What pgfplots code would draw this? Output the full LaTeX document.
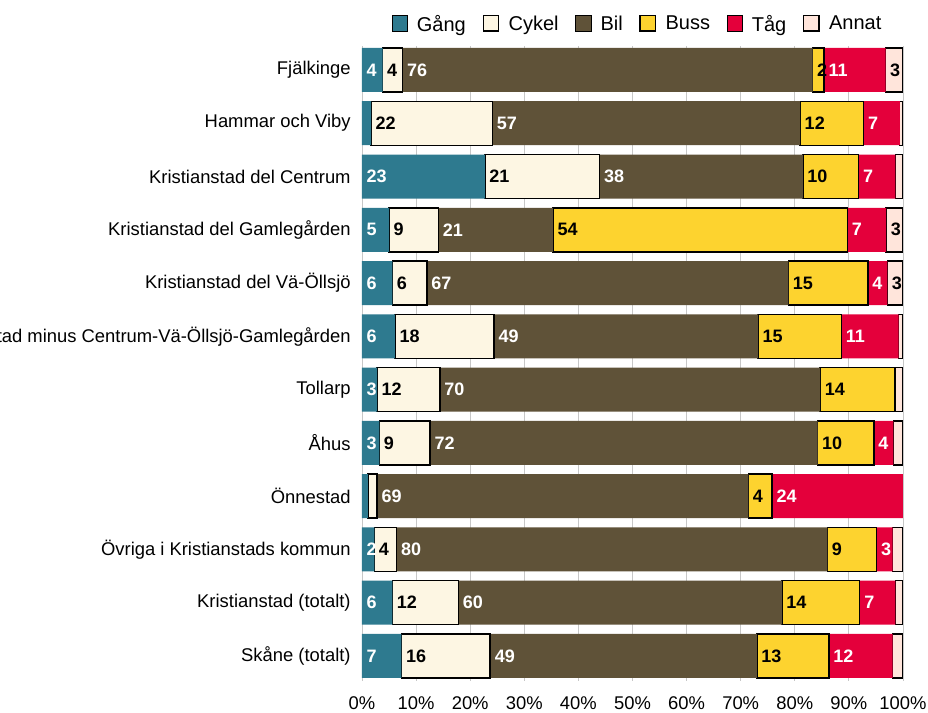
\documentclass[border=0pt]{standalone}
\usepackage{pgfplots}
\pgfplotsset{compat=1.18}
\usepackage{pgfplotstable}
\usepackage{fontspec}
\setmainfont{Liberation Sans}
\definecolor{cGang}{HTML}{2E7A8F}
\definecolor{cCykel}{HTML}{FDF6E3}
\definecolor{cBil}{HTML}{5F5238}
\definecolor{cBuss}{HTML}{FDD32F}
\definecolor{cTag}{HTML}{E4003B}
\definecolor{cAnnat}{HTML}{FFE5DB}

\pgfplotstableread{
idx Gang lGang Cykel lCykel Bil lBil Buss lBuss Tag lTag Annat lAnnat
11 3.8 4 3.7 4 75.8 76 2.1 2 11.4 11 3.2 3
10 1.7 {} 22.4 22 56.9 57 11.7 12 6.7 7 0.6 {}
9 22.7 23 21.2 21 37.6 38 10.3 10 6.8 7 1.4 {}
8 5.0 5 9.1 9 21.2 21 54.4 54 7.2 7 3.1 3
7 5.6 6 6.4 6 66.8 67 14.7 15 3.6 4 2.9 3
6 6.1 6 18.3 18 48.8 49 15.4 15 10.6 11 0.8 {}
5 2.8 3 11.6 12 70.3 70 13.8 14 0 {} 1.5 {}
4 3.2 3 9.4 9 71.6 72 10.4 10 3.6 4 1.8 {}
3 1.1 {} 1.7 {} 68.6 69 4.4 4 24.2 24 0 {}
2 2.3 2 4.1 4 79.6 80 9.1 9 3.0 3 1.9 {}
1 5.6 6 12.2 12 59.8 60 14.4 14 6.6 7 1.4 {}
0 7.3 7 16.4 16 49.3 49 13.3 13 11.8 12 1.9 {}
}\data

\pgfplotsset{
  sq/.style={legend image code/.code={\draw[##1] (0pt,-5.2pt) rectangle (11.5pt,6.3pt);}},
  geom/.style={x=4.0575pt, y=39.95pt, xmin=0, xmax=100, ymin=-0.47, ymax=11.45},
  lab/.style={draw=none, mark=none,
    every node near coord/.append style={text=#1}},
}

\begin{document}
\begin{tikzpicture}
\begin{axis}[
  name=ax,
  geom,
  xbar stacked,
  bar width=33pt,
  axis line style={draw=none},
  xtick={0,10,...,100},
  /pgf/number format/assume math mode=true,
  xticklabel={\pgfmathprintnumber{\tick}\%},
  major tick length=0pt,
  xmajorgrids,
  grid style={black!22, line width=0.6pt},
  ytick={0,...,11},
  yticklabels={Skåne (totalt), Kristianstad (totalt), Övriga i Kristianstads kommun, Önnestad, Åhus, Tollarp, Kristianstad minus Centrum-Vä-Öllsjö-Gamlegården, Kristianstad del Vä-Öllsjö, Kristianstad del Gamlegården, Kristianstad del Centrum, Hammar och Viby, Fjälkinge},
  tick label style={font=\fontsize{13.8}{16}\selectfont},
  yticklabel style={xshift=-5pt},
  xticklabel style={yshift=-8pt},
  legend columns=6,
  legend style={draw=none, fill=none, at={(0.51,1)}, anchor=center, yshift=16.5pt,
    font=\fontsize{15}{18}\selectfont, inner sep=0pt,
    /tikz/every odd column/.append style={column sep=5pt},
    /tikz/every even column/.append style={column sep=10.5pt}},
]
\addplot[sq, fill=cGang, draw=none] table[x=Gang, y=idx]{\data};
\addlegendentry{Gång}
\addplot[sq, fill=cCykel, draw=black, line width=1.1pt] table[x=Cykel, y=idx]{\data};
\addlegendentry{Cykel}
\addplot[sq, fill=cBil, draw=none] table[x=Bil, y=idx]{\data};
\addlegendentry{Bil}
\addplot[sq, fill=cBuss, draw=black, line width=1.1pt] table[x=Buss, y=idx]{\data};
\addlegendentry{Buss}
\addplot[sq, fill=cTag, draw=none] table[x=Tag, y=idx]{\data};
\addlegendentry{Tåg}
\addplot[sq, fill=cAnnat, draw=black, line width=1.1pt] table[x=Annat, y=idx]{\data};
\addlegendentry{Annat}
\end{axis}
\begin{axis}[
  geom,
  hide axis,
  clip=false,
  point meta=explicit symbolic,
  nodes near coords={\pgfplotspointmeta},
  every node near coord/.append style={anchor=west, inner sep=0pt, xshift=3.2pt,
    font=\bfseries\fontsize{13.5}{16}\selectfont},
]
\addplot[lab=white] table[x expr=0, y=idx, meta=lGang]{\data};
\addplot[lab=black] table[x expr=\thisrow{Gang}, y=idx, meta=lCykel]{\data};
\addplot[lab=white] table[x expr=\thisrow{Gang}+\thisrow{Cykel}, y=idx, meta=lBil]{\data};
\addplot[lab=black] table[x expr=\thisrow{Gang}+\thisrow{Cykel}+\thisrow{Bil}, y=idx, meta=lBuss]{\data};
\addplot[lab=white] table[x expr=\thisrow{Gang}+\thisrow{Cykel}+\thisrow{Bil}+\thisrow{Buss}, y=idx, meta=lTag]{\data};
\addplot[lab=black] table[x expr=\thisrow{Gang}+\thisrow{Cykel}+\thisrow{Bil}+\thisrow{Buss}+\thisrow{Tag}, y=idx, meta=lAnnat]{\data};
\end{axis}
\pgfresetboundingbox
\path[use as bounding box] ([xshift=-271.5pt, yshift=-24pt]ax.south west) rectangle ([xshift=18.75pt, yshift=34.5pt]ax.north east);
\end{tikzpicture}
\end{document}
